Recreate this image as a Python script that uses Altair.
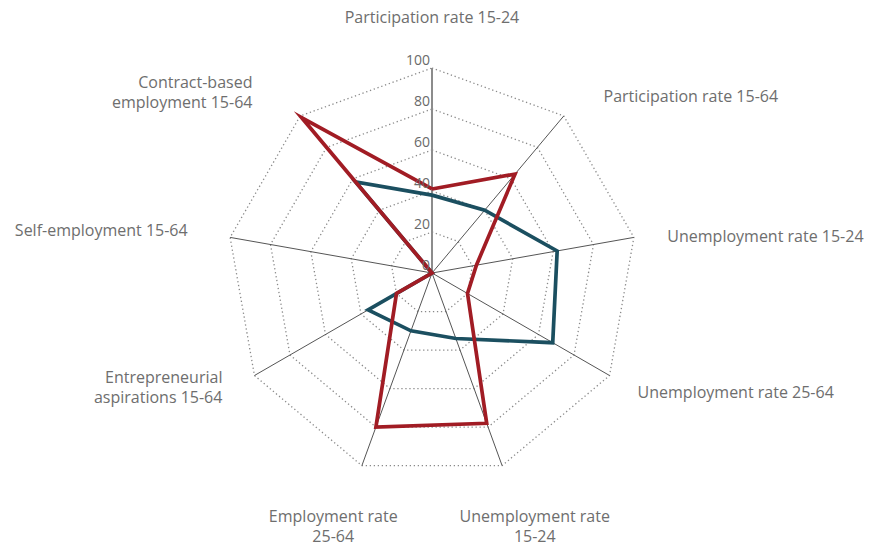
import math
import pandas as pd
import altair as alt

# ---------------- data ----------------
categories = [
    "Participation rate 15-24",
    "Participation rate 15-64",
    "Unemployment rate 15-24",
    "Unemployment rate 25-64",
    "Unemployment rate\n15-24",
    "Employment rate\n25-64",
    "Entrepreneurial\naspirations 15-64",
    "Self-employment 15-64",
    "Contract-based\nemployment 15-64",
]
red_values = [41, 63, 22, 20, 78, 80, 20, 0, 99]
teal_values = [38, 40, 62, 68, 34, 30, 36, 0, 58]
grid_levels = [20, 40, 60, 80, 100]
tick_values = [0, 20, 40, 60, 80, 100]
tick_labels = ["0", "20", "40", "60", "80", "100"]

# ---------------- layout / style ----------------
W, H = 860, 537
CX, CY = 424, 265          # centre of the radar in chart pixels
PX = 2.05                  # pixels per value unit
RMAX = 100
x_domain = [-CX / PX, (W - CX) / PX]
y_domain = [-(H - CY) / PX, CY / PX]

label_radius_px = 242
label_align = ["center", "left", "left", "left", "center", "center", "right", "right", "right"]
label_dx = [0, 16, -3, -4, 20, -16, 0, -6, -24]
label_dy = [-13, 9, 6, -1, 17, 17, -16, 0, -5]

RED = "#a11c24"
TEAL = "#1b4f60"
TEXT = "#6e6e6e"
FONT = "Open Sans"

n = len(categories)
angles = [2 * math.pi * k / n for k in range(n)]

xs = alt.Scale(domain=x_domain, nice=False, zero=False)
ys = alt.Scale(domain=y_domain, nice=False, zero=False)


def polygon(values, name):
    rows = []
    for k in range(n + 1):
        a = angles[k % n]
        v = values[k % n]
        rows.append({"series": name, "idx": k, "x": v * math.sin(a), "y": v * math.cos(a)})
    return pd.DataFrame(rows)


df_red = polygon(red_values, "red")
df_teal = polygon(teal_values, "teal")

grid_rows = []
for lv in grid_levels:
    for k in range(n + 1):
        a = angles[k % n]
        grid_rows.append({"level": lv, "idx": k, "x": lv * math.sin(a), "y": lv * math.cos(a)})
df_grid = pd.DataFrame(grid_rows)

df_spokes = pd.DataFrame({
    "k": list(range(n)),
    "x0": [0.0] * n,
    "y0": [0.0] * n,
    "x1": [RMAX * math.sin(a) for a in angles],
    "y1": [RMAX * math.cos(a) for a in angles],
})

df_ticks = pd.DataFrame({"x": [0.0] * len(tick_values), "y": tick_values, "t": tick_labels})

lab_rows = []
for k in range(n):
    a = angles[k]
    px_x = label_radius_px * math.sin(a) + label_dx[k]
    px_y = label_radius_px * math.cos(a) - label_dy[k]
    lab_rows.append({"label": categories[k], "align": label_align[k], "x": px_x / PX, "y": px_y / PX})
df_lab = pd.DataFrame(lab_rows)

X = lambda f: alt.X(f, type="quantitative", scale=xs, axis=None)
Y = lambda f: alt.Y(f, type="quantitative", scale=ys, axis=None)

grid = alt.Chart(df_grid).mark_line(
    color="#8a8a8a", strokeWidth=1.3, strokeDash=[1.3, 2.7]
).encode(x=X("x"), y=Y("y"), order="idx:Q", detail="level:N")

spokes = alt.Chart(df_spokes).transform_filter("datum.k > 0").mark_rule(
    color="#555555", strokeWidth=1
).encode(x=X("x0"), y=Y("y0"), x2="x1", y2="y1")

top_spoke = alt.Chart(df_spokes).transform_filter("datum.k == 0").mark_rule(
    color="#8c8c8c", strokeWidth=2
).encode(x=X("x0"), y=Y("y0"), x2="x1", y2="y1")

teal_line = alt.Chart(df_teal).mark_line(
    color=TEAL, strokeWidth=3.7, strokeJoin="miter", strokeMiterLimit=30
).encode(x=X("x"), y=Y("y"), order="idx:Q")

red_line = alt.Chart(df_red).mark_line(
    color=RED, strokeWidth=3.7, strokeJoin="miter", strokeMiterLimit=30
).encode(x=X("x"), y=Y("y"), order="idx:Q")

ticks = alt.Chart(df_ticks).mark_text(
    align="right", baseline="alphabetic", dx=-2, dy=-3, fontSize=14, color="#6a6a6a", font=FONT
).encode(x=X("x"), y=Y("y"), text="t:N")


def label_layer(al):
    return alt.Chart(df_lab).transform_filter(alt.datum.align == al).mark_text(
        align=al, baseline="middle", fontSize=16, color=TEXT, font=FONT,
        lineBreak="\n", lineHeight=20
    ).encode(x=X("x"), y=Y("y"), text="label:N")


chart = alt.layer(
    grid, spokes, top_spoke, teal_line, red_line, ticks,
    label_layer("left"), label_layer("center"), label_layer("right"),
).properties(
    width=W, height=H, padding=0, autosize=alt.AutoSizeParams(type="none")
).configure_view(stroke=None)

chart.save("out.html", embed_options={"renderer": "svg", "actions": False})
